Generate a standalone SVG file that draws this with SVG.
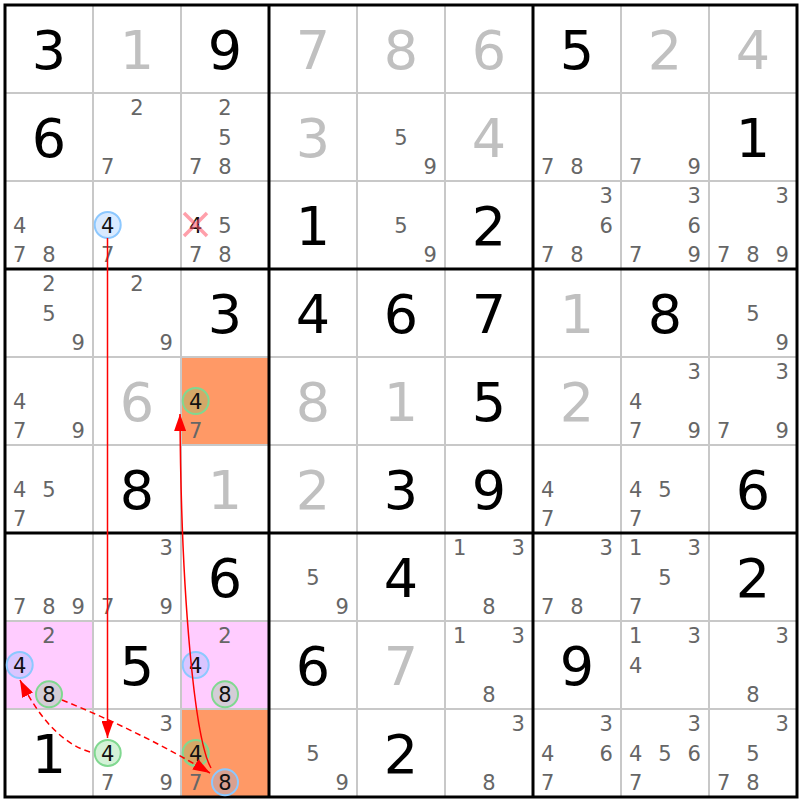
<svg xmlns="http://www.w3.org/2000/svg" width="800" height="800" viewBox="0 0 800 800">
<style>
text{font-family:"DejaVu Sans","Verdana",sans-serif;text-anchor:middle}
.s{font-size:54px;fill:#000}
.g{font-size:54px;fill:#c0c0c0}
.c{font-size:21px;fill:#666}
.k{font-size:21px;fill:#111}
.thin{stroke:#c8c8c8;stroke-width:2}
.thick{stroke:#000;stroke-width:3}
.cb{fill:rgba(120,180,255,0.28);stroke:#8cc8ff;stroke-width:2}
.cg{fill:rgba(100,210,110,0.28);stroke:#80d890;stroke-width:2}
.x{stroke:rgba(255,80,100,0.55);stroke-width:3.5}
.pink{fill:#ffccff}
.orange{fill:#ff9966}
.ln{fill:none;stroke:#ff0000;stroke-width:1.5}
.dash{stroke-dasharray:6,4}
</style>
<defs>
<marker id="ah" markerUnits="userSpaceOnUse" markerWidth="18" markerHeight="12" refX="17" refY="6" orient="auto"><path d="M0,0 L17,6 L0,12 z" fill="#ff0000"/></marker>
</defs>
<rect x="0" y="0" width="800" height="800" fill="#fff"/>
<g id="highlights">
<rect class="orange" x="181" y="357" width="88" height="88"/>
<rect class="orange" x="181" y="709" width="88" height="88"/>
<rect class="pink" x="5" y="621" width="88" height="88"/>
<rect class="pink" x="181" y="621" width="88" height="88"/>
</g>
<g id="grid">
<path class="thin" d="M93,5V797M181,5V797M357,5V797M445,5V797M621,5V797M709,5V797M5,93H797M5,181H797M5,357H797M5,445H797M5,621H797M5,709H797"/>
<path class="thick" d="M269,5V797M533,5V797M5,269H797M5,533H797"/>
<rect class="thick" x="5" y="5" width="792" height="792" fill="none"/>
</g>
<g id="r0">
<g id="r0c0"><text class="s" x="49" y="68.5">3</text></g>
<g id="r0c1"><text class="g" x="137" y="68.5">1</text></g>
<g id="r0c2"><text class="s" x="225" y="68.5">9</text></g>
<g id="r0c3"><text class="g" x="313" y="68.5">7</text></g>
<g id="r0c4"><text class="g" x="401" y="68.5">8</text></g>
<g id="r0c5"><text class="g" x="489" y="68.5">6</text></g>
<g id="r0c6"><text class="s" x="577" y="68.5">5</text></g>
<g id="r0c7"><text class="g" x="665" y="68.5">2</text></g>
<g id="r0c8"><text class="g" x="753" y="68.5">4</text></g>
</g>
<g id="r1">
<g id="r1c0"><text class="s" x="49" y="156.5">6</text></g>
<g id="r1c1"><text class="c" x="137" y="115.2">2</text><text class="c" x="107.7" y="173.8">7</text></g>
<g id="r1c2"><text class="c" x="225" y="115.2">2</text><text class="c" x="225" y="144.5">5</text><text class="c" x="195.7" y="173.8">7</text><text class="c" x="225" y="173.8">8</text></g>
<g id="r1c3"><text class="g" x="313" y="156.5">3</text></g>
<g id="r1c4"><text class="c" x="401" y="144.5">5</text><text class="c" x="430.3" y="173.8">9</text></g>
<g id="r1c5"><text class="g" x="489" y="156.5">4</text></g>
<g id="r1c6"><text class="c" x="547.7" y="173.8">7</text><text class="c" x="577" y="173.8">8</text></g>
<g id="r1c7"><text class="c" x="635.7" y="173.8">7</text><text class="c" x="694.3" y="173.8">9</text></g>
<g id="r1c8"><text class="s" x="753" y="156.5">1</text></g>
</g>
<g id="r2">
<g id="r2c0"><text class="c" x="19.7" y="232.5">4</text><text class="c" x="19.7" y="261.8">7</text><text class="c" x="49" y="261.8">8</text></g>
<g id="r2c1"><circle class="cb" cx="107.7" cy="225" r="13"/><text class="k" x="107.7" y="232.5">4</text><text class="c" x="107.7" y="261.8">7</text></g>
<g id="r2c2"><text class="k" x="195.7" y="232.5">4</text><path class="x" d="M184,213L207,236M207,213L184,236"/><text class="c" x="225" y="232.5">5</text><text class="c" x="195.7" y="261.8">7</text><text class="c" x="225" y="261.8">8</text></g>
<g id="r2c3"><text class="s" x="313" y="244.5">1</text></g>
<g id="r2c4"><text class="c" x="401" y="232.5">5</text><text class="c" x="430.3" y="261.8">9</text></g>
<g id="r2c5"><text class="s" x="489" y="244.5">2</text></g>
<g id="r2c6"><text class="c" x="606.3" y="203.2">3</text><text class="c" x="606.3" y="232.5">6</text><text class="c" x="547.7" y="261.8">7</text><text class="c" x="577" y="261.8">8</text></g>
<g id="r2c7"><text class="c" x="694.3" y="203.2">3</text><text class="c" x="694.3" y="232.5">6</text><text class="c" x="635.7" y="261.8">7</text><text class="c" x="694.3" y="261.8">9</text></g>
<g id="r2c8"><text class="c" x="782.3" y="203.2">3</text><text class="c" x="723.7" y="261.8">7</text><text class="c" x="753" y="261.8">8</text><text class="c" x="782.3" y="261.8">9</text></g>
</g>
<g id="r3">
<g id="r3c0"><text class="c" x="49" y="291.2">2</text><text class="c" x="49" y="320.5">5</text><text class="c" x="78.3" y="349.8">9</text></g>
<g id="r3c1"><text class="c" x="137" y="291.2">2</text><text class="c" x="166.3" y="349.8">9</text></g>
<g id="r3c2"><text class="s" x="225" y="332.5">3</text></g>
<g id="r3c3"><text class="s" x="313" y="332.5">4</text></g>
<g id="r3c4"><text class="s" x="401" y="332.5">6</text></g>
<g id="r3c5"><text class="s" x="489" y="332.5">7</text></g>
<g id="r3c6"><text class="g" x="577" y="332.5">1</text></g>
<g id="r3c7"><text class="s" x="665" y="332.5">8</text></g>
<g id="r3c8"><text class="c" x="753" y="320.5">5</text><text class="c" x="782.3" y="349.8">9</text></g>
</g>
<g id="r4">
<g id="r4c0"><text class="c" x="19.7" y="408.5">4</text><text class="c" x="19.7" y="437.8">7</text><text class="c" x="78.3" y="437.8">9</text></g>
<g id="r4c1"><text class="g" x="137" y="420.5">6</text></g>
<g id="r4c2"><circle class="cg" cx="195.7" cy="401" r="13"/><text class="k" x="195.7" y="408.5">4</text><text class="c" x="195.7" y="437.8">7</text></g>
<g id="r4c3"><text class="g" x="313" y="420.5">8</text></g>
<g id="r4c4"><text class="g" x="401" y="420.5">1</text></g>
<g id="r4c5"><text class="s" x="489" y="420.5">5</text></g>
<g id="r4c6"><text class="g" x="577" y="420.5">2</text></g>
<g id="r4c7"><text class="c" x="694.3" y="379.2">3</text><text class="c" x="635.7" y="408.5">4</text><text class="c" x="635.7" y="437.8">7</text><text class="c" x="694.3" y="437.8">9</text></g>
<g id="r4c8"><text class="c" x="782.3" y="379.2">3</text><text class="c" x="723.7" y="437.8">7</text><text class="c" x="782.3" y="437.8">9</text></g>
</g>
<g id="r5">
<g id="r5c0"><text class="c" x="19.7" y="496.5">4</text><text class="c" x="49" y="496.5">5</text><text class="c" x="19.7" y="525.8">7</text></g>
<g id="r5c1"><text class="s" x="137" y="508.5">8</text></g>
<g id="r5c2"><text class="g" x="225" y="508.5">1</text></g>
<g id="r5c3"><text class="g" x="313" y="508.5">2</text></g>
<g id="r5c4"><text class="s" x="401" y="508.5">3</text></g>
<g id="r5c5"><text class="s" x="489" y="508.5">9</text></g>
<g id="r5c6"><text class="c" x="547.7" y="496.5">4</text><text class="c" x="547.7" y="525.8">7</text></g>
<g id="r5c7"><text class="c" x="635.7" y="496.5">4</text><text class="c" x="665" y="496.5">5</text><text class="c" x="635.7" y="525.8">7</text></g>
<g id="r5c8"><text class="s" x="753" y="508.5">6</text></g>
</g>
<g id="r6">
<g id="r6c0"><text class="c" x="19.7" y="613.8">7</text><text class="c" x="49" y="613.8">8</text><text class="c" x="78.3" y="613.8">9</text></g>
<g id="r6c1"><text class="c" x="166.3" y="555.2">3</text><text class="c" x="107.7" y="613.8">7</text><text class="c" x="166.3" y="613.8">9</text></g>
<g id="r6c2"><text class="s" x="225" y="596.5">6</text></g>
<g id="r6c3"><text class="c" x="313" y="584.5">5</text><text class="c" x="342.3" y="613.8">9</text></g>
<g id="r6c4"><text class="s" x="401" y="596.5">4</text></g>
<g id="r6c5"><text class="c" x="459.7" y="555.2">1</text><text class="c" x="518.3" y="555.2">3</text><text class="c" x="489" y="613.8">8</text></g>
<g id="r6c6"><text class="c" x="606.3" y="555.2">3</text><text class="c" x="547.7" y="613.8">7</text><text class="c" x="577" y="613.8">8</text></g>
<g id="r6c7"><text class="c" x="635.7" y="555.2">1</text><text class="c" x="694.3" y="555.2">3</text><text class="c" x="665" y="584.5">5</text><text class="c" x="635.7" y="613.8">7</text></g>
<g id="r6c8"><text class="s" x="753" y="596.5">2</text></g>
</g>
<g id="r7">
<g id="r7c0"><text class="c" x="49" y="643.2">2</text><circle class="cb" cx="19.7" cy="665" r="13"/><text class="k" x="19.7" y="672.5">4</text><circle class="cg" cx="49" cy="694.3" r="13"/><text class="k" x="49" y="701.8">8</text></g>
<g id="r7c1"><text class="s" x="137" y="684.5">5</text></g>
<g id="r7c2"><text class="c" x="225" y="643.2">2</text><circle class="cb" cx="195.7" cy="665" r="13"/><text class="k" x="195.7" y="672.5">4</text><circle class="cg" cx="225" cy="694.3" r="13"/><text class="k" x="225" y="701.8">8</text></g>
<g id="r7c3"><text class="s" x="313" y="684.5">6</text></g>
<g id="r7c4"><text class="g" x="401" y="684.5">7</text></g>
<g id="r7c5"><text class="c" x="459.7" y="643.2">1</text><text class="c" x="518.3" y="643.2">3</text><text class="c" x="489" y="701.8">8</text></g>
<g id="r7c6"><text class="s" x="577" y="684.5">9</text></g>
<g id="r7c7"><text class="c" x="635.7" y="643.2">1</text><text class="c" x="694.3" y="643.2">3</text><text class="c" x="635.7" y="672.5">4</text></g>
<g id="r7c8"><text class="c" x="782.3" y="643.2">3</text><text class="c" x="753" y="701.8">8</text></g>
</g>
<g id="r8">
<g id="r8c0"><text class="s" x="49" y="772.5">1</text></g>
<g id="r8c1"><text class="c" x="166.3" y="731.2">3</text><circle class="cg" cx="107.7" cy="753" r="13"/><text class="k" x="107.7" y="760.5">4</text><text class="c" x="107.7" y="789.8">7</text><text class="c" x="166.3" y="789.8">9</text></g>
<g id="r8c2"><circle class="cg" cx="195.7" cy="753" r="13"/><text class="k" x="195.7" y="760.5">4</text><text class="c" x="195.7" y="789.8">7</text><circle class="cb" cx="225" cy="782.3" r="13"/><text class="k" x="225" y="789.8">8</text></g>
<g id="r8c3"><text class="c" x="313" y="760.5">5</text><text class="c" x="342.3" y="789.8">9</text></g>
<g id="r8c4"><text class="s" x="401" y="772.5">2</text></g>
<g id="r8c5"><text class="c" x="518.3" y="731.2">3</text><text class="c" x="489" y="789.8">8</text></g>
<g id="r8c6"><text class="c" x="606.3" y="731.2">3</text><text class="c" x="547.7" y="760.5">4</text><text class="c" x="606.3" y="760.5">6</text><text class="c" x="547.7" y="789.8">7</text></g>
<g id="r8c7"><text class="c" x="694.3" y="731.2">3</text><text class="c" x="635.7" y="760.5">4</text><text class="c" x="665" y="760.5">5</text><text class="c" x="694.3" y="760.5">6</text><text class="c" x="635.7" y="789.8">7</text></g>
<g id="r8c8"><text class="c" x="782.3" y="731.2">3</text><text class="c" x="753" y="760.5">5</text><text class="c" x="723.7" y="789.8">7</text><text class="c" x="753" y="789.8">8</text></g>
</g>
<g id="connectors">
<path class="ln" d="M107.5,238 L107.5,738" marker-end="url(#ah)"/>
<path class="ln" d="M211,768 C195,740 181,600 180,414" marker-end="url(#ah)"/>
<path class="ln dash" d="M90,752 Q50,740 20,680" marker-end="url(#ah)"/>
<path class="ln dash" d="M62,700 Q139,731 210,773" marker-end="url(#ah)"/>
</g>
</svg>
